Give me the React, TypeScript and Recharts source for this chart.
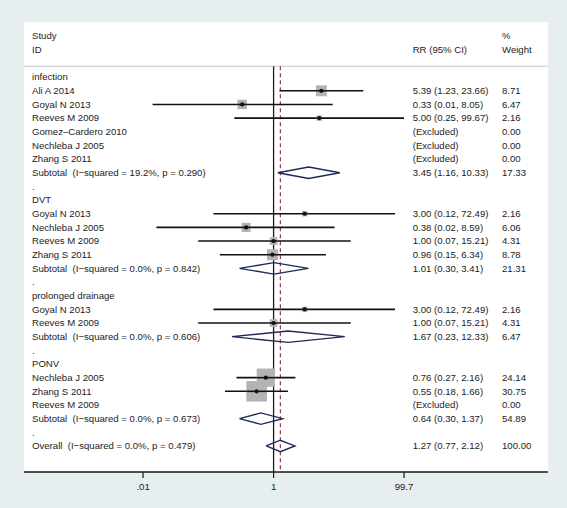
import React from "react";
import {
  ScatterChart,
  Scatter,
  XAxis,
  YAxis,
  ErrorBar,
  ReferenceLine,
  CartesianGrid,
} from "recharts";

// ---- Data ----
const ROW_LABELS = [
  "infection",
  "Ali A 2014",
  "Goyal N 2013",
  "Reeves M 2009",
  "Gomez\u2013Cardero 2010",
  "Nechleba J 2005",
  "Zhang S 2011",
  "Subtotal\u00a0 (I\u2212squared = 19.2%, p = 0.290)",
  ".",
  "DVT",
  "Goyal N 2013",
  "Nechleba J 2005",
  "Reeves M 2009",
  "Zhang S 2011",
  "Subtotal\u00a0 (I\u2212squared = 0.0%, p = 0.842)",
  ".",
  "prolonged drainage",
  "Goyal N 2013",
  "Reeves M 2009",
  "Subtotal\u00a0 (I\u2212squared = 0.0%, p = 0.606)",
  ".",
  "PONV",
  "Nechleba J 2005",
  "Zhang S 2011",
  "Reeves M 2009",
  "Subtotal\u00a0 (I\u2212squared = 0.0%, p = 0.673)",
  ".",
  "Overall\u00a0 (I\u2212squared = 0.0%, p = 0.479)",
];

const RR_LABELS = [
  "",
  "5.39 (1.23, 23.66)",
  "0.33 (0.01, 8.05)",
  "5.00 (0.25, 99.67)",
  "(Excluded)",
  "(Excluded)",
  "(Excluded)",
  "3.45 (1.16, 10.33)",
  "",
  "",
  "3.00 (0.12, 72.49)",
  "0.38 (0.02, 8.59)",
  "1.00 (0.07, 15.21)",
  "0.96 (0.15, 6.34)",
  "1.01 (0.30, 3.41)",
  "",
  "",
  "3.00 (0.12, 72.49)",
  "1.00 (0.07, 15.21)",
  "1.67 (0.23, 12.33)",
  "",
  "",
  "0.76 (0.27, 2.16)",
  "0.55 (0.18, 1.66)",
  "(Excluded)",
  "0.64 (0.30, 1.37)",
  "",
  "1.27 (0.77, 2.12)",
];

const WEIGHT_LABELS = [
  "", "8.71", "6.47", "2.16", "0.00", "0.00", "0.00", "17.33", "",
  "", "2.16", "6.06", "4.31", "8.78", "21.31", "",
  "", "2.16", "4.31", "6.47", "",
  "", "24.14", "30.75", "0.00", "54.89", "",
  "100.00",
];

const HEADER_STUDY = ["Study", "ID"];
const HEADER_RR = ["", "RR (95% CI)"];
const HEADER_WEIGHT = ["%", "Weight"];

const studyRows = [1, 2, 3, 10, 11, 12, 13, 17, 18, 22, 23];
const studyEst = [5.39, 0.33, 5.0, 3.0, 0.38, 1.0, 0.96, 3.0, 1.0, 0.76, 0.55];
const studyLo = [1.23, 0.014, 0.25, 0.12, 0.016, 0.07, 0.15, 0.12, 0.07, 0.27, 0.18];
const studyHi = [23.66, 8.05, 99.67, 72.49, 8.59, 15.21, 6.34, 72.49, 15.21, 2.16, 1.66];
const studyWeight = [8.71, 6.47, 2.16, 2.16, 6.06, 4.31, 8.78, 2.16, 4.31, 24.14, 30.75];

const pooledRows = [7, 14, 19, 25, 27];
const pooledEst = [3.45, 1.01, 1.67, 0.64, 1.27];
const pooledLo = [1.16, 0.3, 0.23, 0.3, 0.77];
const pooledHi = [10.33, 3.41, 12.33, 1.37, 2.12];

const X_TICKS = [0.01, 1, 99.7];
const X_TICK_LABELS = [".01", "1", "99.7"];

// ---- Styles ----
const FONT = "'Liberation Sans', Arial, sans-serif";
const FONT_SIZE = 9.6;
const TEXT_COLOR = "#1c1c1c";
const DIAMOND_COLOR = "#1e2b5a";
const DASH_COLOR = "#9a3448";
const BOX_COLOR = "#b3b3b3";
const LINE_COLOR = "#111";
const BOX_K = 3.7;
const DIAMOND_HALF = 0.42;
const HEADER_LINE_ROW = -0.8;
const Y_DOMAIN: [number, number] = [-4.035, 28.906];
const X_DOMAIN: [number, number] = [0.00015, 16000];

const studyData = studyRows.map((row, i) => ({
  row,
  est: studyEst[i],
  weight: studyWeight[i],
  err: [studyEst[i] - studyLo[i], studyHi[i] - studyEst[i]],
}));

const diamonds = pooledRows.map((row, i) => [
  { est: pooledLo[i], row },
  { est: pooledEst[i], row: row - DIAMOND_HALF },
  { est: pooledHi[i], row },
  { est: pooledEst[i], row: row + DIAMOND_HALF },
  { est: pooledLo[i], row },
]);

const yTicks: number[] = [];
for (let r = -3; r < ROW_LABELS.length; r++) {
  if (r === -1) continue;
  yTicks.push(r);
}

const LEFT = 24; // plot left edge
const COL_LABEL = 8;
const COL_RR = 388.7;
const COL_WEIGHT = 478;

function RowTick(props: any) {
  const { y, payload } = props;
  const r = payload.value as number;
  let a = "";
  let b = "";
  let c = "";
  if (r < 0) {
    a = HEADER_STUDY[r + 3];
    b = HEADER_RR[r + 3];
    c = HEADER_WEIGHT[r + 3];
  } else {
    a = ROW_LABELS[r];
    b = RR_LABELS[r];
    c = WEIGHT_LABELS[r];
  }
  const common = {
    y,
    dy: "0.35em",
    fontSize: FONT_SIZE,
    fontFamily: FONT,
    fill: TEXT_COLOR,
    textAnchor: "start" as const,
  };
  return (
    <g>
      {a && <text x={LEFT + COL_LABEL} {...common}>{a}</text>}
      {b && <text x={LEFT + COL_RR} {...common}>{b}</text>}
      {c && <text x={LEFT + COL_WEIGHT} {...common}>{c}</text>}
    </g>
  );
}

function BoxShape(props: any) {
  const { cx, cy, payload } = props;
  if (cx == null || cy == null) return <g />;
  const s = BOX_K * Math.sqrt(payload.weight);
  return (
    <g>
      <rect x={cx - s / 2} y={cy - s / 2} width={s} height={s} fill={BOX_COLOR} />
      <line x1={cx - s / 2} x2={cx + s / 2} y1={cy} y2={cy} stroke={LINE_COLOR} strokeWidth={1.6} />
      <circle cx={cx} cy={cy} r={2.1} fill={LINE_COLOR} />
    </g>
  );
}

const NoShape = () => <g />;

export default function App() {
  const overall = pooledEst[pooledEst.length - 1];
  return (
    <div style={{ position: "absolute", left: 0, top: 0, width: 567, height: 508, background: "#e7eef0" }}>
      <ScatterChart
        width={567}
        height={508}
        margin={{ top: 22, right: 19, bottom: 6, left: 23 }}
        style={{ fontFamily: FONT }}
      >
        <CartesianGrid fill="#ffffff" horizontal={false} vertical={false} />
        <XAxis
          type="number"
          dataKey="est"
          scale="log"
          domain={X_DOMAIN}
          allowDataOverflow
          ticks={X_TICKS}
          tickFormatter={(v: number) => X_TICK_LABELS[X_TICKS.indexOf(v)] ?? String(v)}
          height={30}
          axisLine={{ stroke: "#1a1a1a", strokeWidth: 1.4 }}
          tickLine={{ stroke: "#1a1a1a", strokeWidth: 1.2 }}
          tickSize={6}
          tickMargin={5}
          tick={{ fontSize: FONT_SIZE, fill: TEXT_COLOR, fontFamily: FONT }}
          interval={0}
        />
        <YAxis
          type="number"
          dataKey="row"
          domain={Y_DOMAIN}
          allowDataOverflow
          reversed
          ticks={yTicks}
          interval={0}
          width={1}
          tickMargin={0}
          axisLine={false}
          tickLine={false}
          tick={(p: any) => <RowTick {...p} />}
        />
        <ReferenceLine y={HEADER_LINE_ROW} stroke="#c4c8ca" strokeWidth={1} />
        <ReferenceLine
          segment={[
            { x: 1, y: HEADER_LINE_ROW },
            { x: 1, y: Y_DOMAIN[1] },
          ]}
          stroke="#1a1a1a"
          strokeWidth={1.3}
        />
        <ReferenceLine
          segment={[
            { x: overall, y: HEADER_LINE_ROW },
            { x: overall, y: Y_DOMAIN[1] },
          ]}
          stroke={DASH_COLOR}
          strokeWidth={1.2}
          strokeDasharray="4 3"
        />
        <Scatter data={studyData} shape={<BoxShape />} isAnimationActive={false}>
          <ErrorBar dataKey="err" direction="x" width={0} stroke={LINE_COLOR} strokeWidth={1.6} isAnimationActive={false} />
        </Scatter>
        {diamonds.map((pts, i) => (
          <Scatter
            key={i}
            data={pts}
            shape={<NoShape />}
            line={{ stroke: DIAMOND_COLOR, strokeWidth: 1.4 }}
            lineType="joint"
            isAnimationActive={false}
          />
        ))}
      </ScatterChart>
    </div>
  );
}
